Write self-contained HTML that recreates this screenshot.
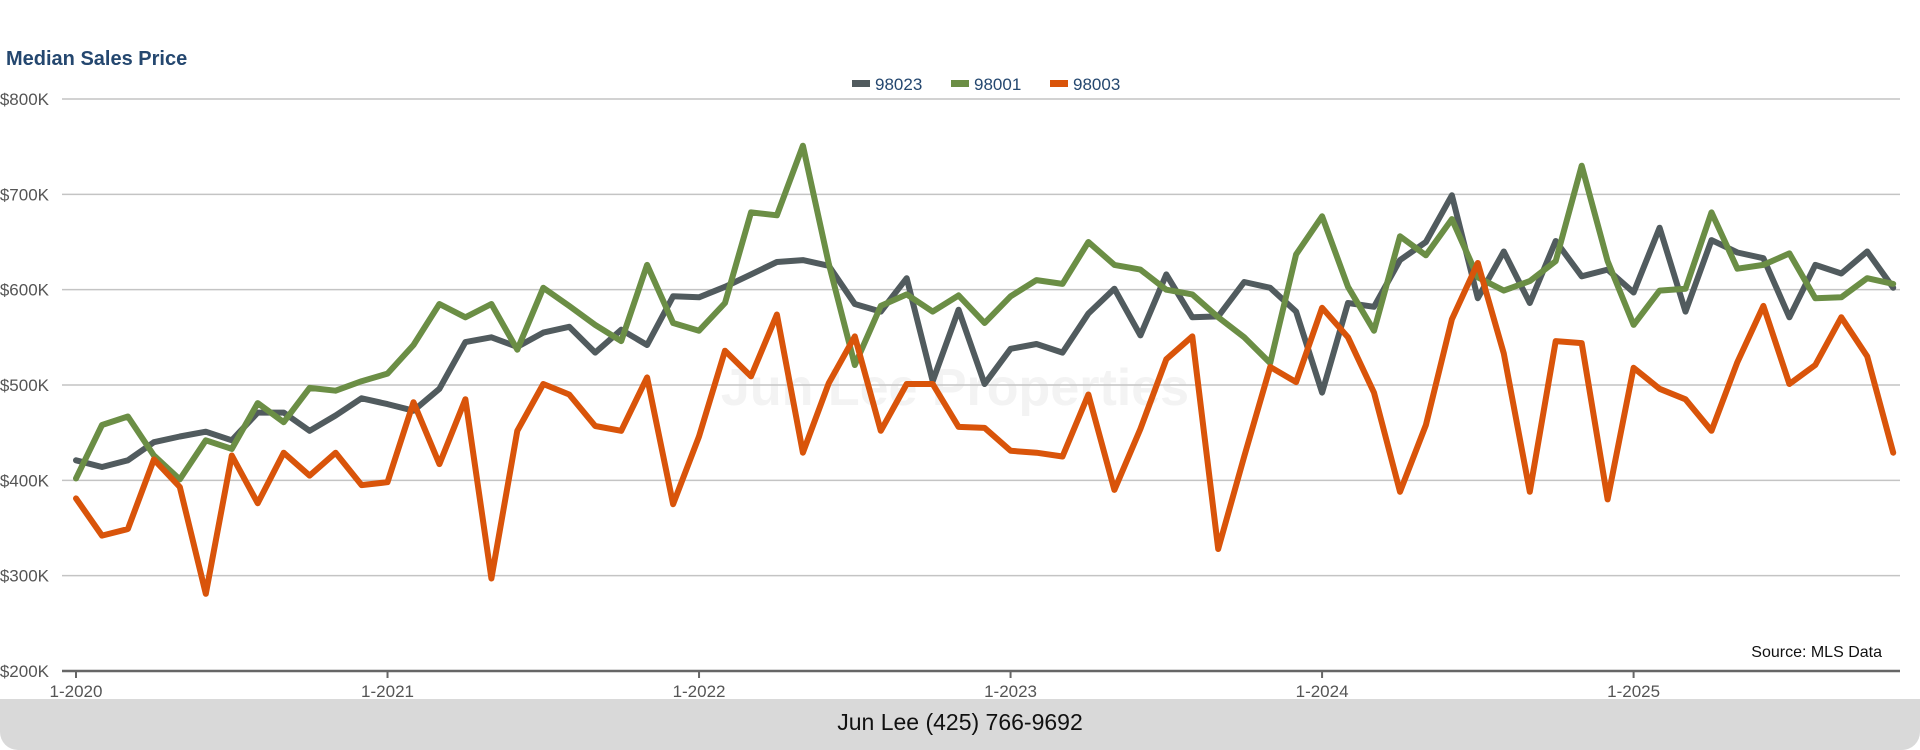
<!DOCTYPE html>
<html><head><meta charset="utf-8"><style>
html,body{margin:0;padding:0;background:#fff;width:1920px;height:750px;overflow:hidden;font-family:"Liberation Sans",sans-serif}
#footer{position:absolute;left:0;top:699px;width:1920px;height:51px;background:#d9d9d9;border-radius:0 0 18px 18px}
#footer span{position:absolute;left:0;right:0;top:10px;text-align:center;font-size:23px;color:#111}
</style></head><body>
<div id="footer"><span>Jun Lee (425) 766-9692</span></div>
<svg id="chart" width="1920" height="700" style="position:absolute;left:0;top:0" xmlns="http://www.w3.org/2000/svg"></svg>
<script>
const months = 71;
const xTickLabels = ["1-2020","1-2021","1-2022","1-2023","1-2024","1-2025"];
const yTicks = [200,300,400,500,600,700,800];
const seriesNames = ["98023","98001","98003"];
const s98023 = [421,414,421,440,446,451,442,471,471,452,468,486,480,473,496,545,550,540,555,561,534,558,542,593,592,603,616,629,631,625,585,577,612,504,579,501,538,543,534,575,601,552,616,571,572,608,602,577,492,586,582,631,650,699,591,640,586,651,614,621,597,665,577,652,639,633,571,626,617,640,602];
const s98001 = [402,458,467,426,401,442,433,481,461,497,494,504,512,542,585,571,585,537,602,583,563,546,626,565,557,586,681,678,751,627,521,583,595,577,594,565,593,610,606,650,626,621,600,595,571,550,523,637,677,603,557,656,636,674,613,599,609,630,730,630,563,599,601,681,622,626,638,591,592,612,606];
const s98003 = [381,342,349,422,393,281,426,376,429,405,429,395,398,482,417,485,297,452,501,490,457,452,508,375,446,536,509,574,429,502,551,452,501,501,456,455,431,429,425,490,390,454,527,551,328,425,519,503,581,550,492,388,458,569,628,533,388,546,544,380,518,496,485,452,524,583,501,521,571,530,429];
const colors = ["#515b5e","#6b8e45","#d9540a"];

const NS="http://www.w3.org/2000/svg";
const svg=document.getElementById('chart');
const X0=76, DX=25.96, YTOP=99, YBOT=671;
const xs=i=>X0+i*DX;
const ys=v=>YBOT-(v-200)*(YBOT-YTOP)/600;
function mk(t,a){const e=document.createElementNS(NS,t);for(const k in a)e.setAttribute(k,a[k]);svg.appendChild(e);return e;}

let t=mk('text',{x:6,y:65,'font-size':20,'font-weight':'bold',fill:'#24476f'});t.textContent='Median Sales Price';



let wm=mk('text',{x:955,y:405,'font-size':52,'font-weight':'bold','text-anchor':'middle',fill:'#f3f3f3'});wm.textContent='Jun Lee Properties';



yTicks.forEach(v=>{
  if(v>200){const g=mk('line',{x1:X0-14,x2:1900,y1:ys(v),y2:ys(v),stroke:'#c4c4c4','stroke-width':1.5});
  
  }
  const l=mk('text',{x:49,y:ys(v)+6,'font-size':17,'text-anchor':'end',fill:'#555'});l.textContent='$'+v+'K';
  
  
});
const ax=mk('line',{x1:X0-14,x2:1900,y1:YBOT,y2:YBOT,stroke:'#666','stroke-width':2.5});


xTickLabels.forEach((lab,k)=>{
  const x=xs(k*12);
  const tk=mk('line',{x1:x,x2:x,y1:YBOT,y2:YBOT+7,stroke:'#666','stroke-width':2});
  
  
  const tl=mk('text',{x:x,y:697,'font-size':17,'text-anchor':'middle',fill:'#555'});tl.textContent=lab;
  
  
});
[s98023,s98001,s98003].forEach((s,k)=>{
  const p=mk('polyline',{points:s.map((v,i)=>xs(i).toFixed(1)+','+ys(v).toFixed(1)).join(' '),fill:'none',stroke:colors[k],'stroke-width':6,'stroke-linejoin':'round','stroke-linecap':'round'});
  
  
});
const lx=[852,951,1050];
seriesNames.forEach((n,k)=>{
  const r=mk('rect',{x:lx[k],y:80,width:18,height:7,fill:colors[k]});
  
  
  const lt=mk('text',{x:lx[k]+23,y:90,'font-size':17,fill:'#24476f'});lt.textContent=n;
  
  
});
const src=mk('text',{x:1882,y:657,'font-size':16,'text-anchor':'end',fill:'#111'});src.textContent='Source: MLS Data';


</script>
</body></html>
